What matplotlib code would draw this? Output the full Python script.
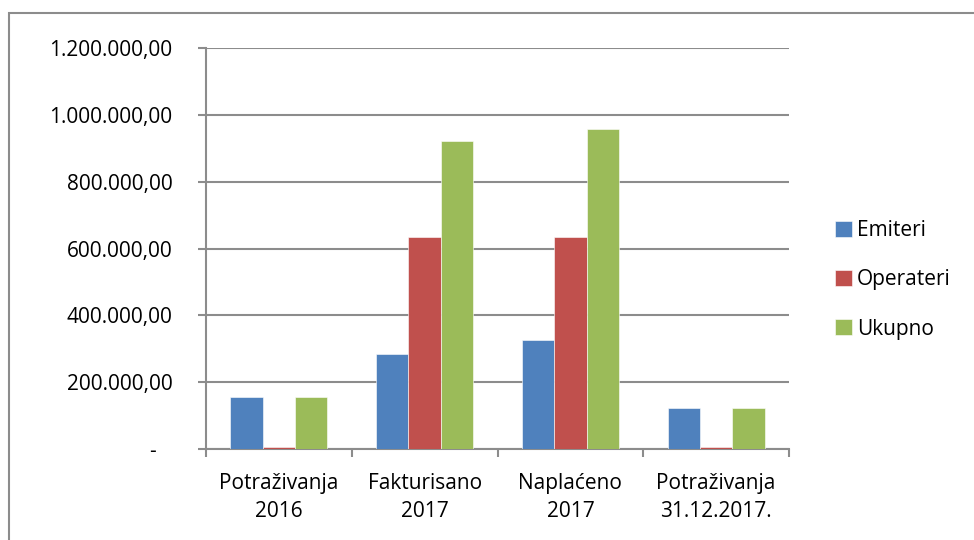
import matplotlib.pyplot as plt
from matplotlib.patches import Rectangle
from matplotlib.ticker import FuncFormatter
import numpy as np

plt.rcParams['font.family'] = ['Open Sans', 'DejaVu Sans']

# chart data
categories = ['Potraživanja\n2016', 'Fakturisano\n2017', 'Naplaćeno\n2017', 'Potraživanja\n31.12.2017.']
series_names = ['Emiteri', 'Operateri', 'Ukupno']
emiteri = [155700, 284000, 326000, 122800]
operateri = [5000, 634700, 634700, 5000]
ukupno = [155700, 920700, 956600, 122800]
colours = ['#4F81BD', '#C0504D', '#9BBB59']


def fmt_value(v, pos):
    # european number format, zero is shown as a dash (accounting style)
    if v == 0:
        return '-   '
    s = '{:,.2f}'.format(v)
    return s.replace(',', 'X').replace('.', ',').replace('X', '.')


fig = plt.figure(figsize=(9.74, 5.4), dpi=100)
ax = fig.add_axes([206 / 974, 1 - 449 / 540, 583 / 974, 401 / 540])

# outer chart frame (right and bottom edges fall outside the picture)
fig.patches.append(Rectangle((9 / 974, -0.1), 1.1, 1.1 - 13 / 540, transform=fig.transFigure,
                             facecolor='none', edgecolor='#8c8c8c', linewidth=1.5))

x = np.arange(len(categories))
width = 1 / 4.5
for i, (name, vals) in enumerate(zip(series_names, [emiteri, operateri, ukupno])):
    ax.bar(x + (i - 1) * width, vals, width, color=colours[i], label=name,
           edgecolor='white', linewidth=0.4, zorder=3)

grid_col = '#8c8c8c'
ax.set_xlim(-0.5, len(categories) - 0.5)
ax.set_ylim(0, 1200000)
ax.set_yticks(np.arange(0, 1200001, 200000))
ax.yaxis.set_major_formatter(FuncFormatter(fmt_value))
ax.grid(axis='y', color=grid_col, linewidth=1.5, zorder=0)

ax.set_xticks(x)
ax.set_xticklabels(categories, linespacing=1.45)
ax.set_xticks(np.arange(-0.5, len(categories)), minor=True)
ax.tick_params(axis='x', which='major', length=0, pad=17, labelsize=15)
ax.tick_params(axis='x', which='minor', length=6, width=1.5, color=grid_col)
ax.tick_params(axis='y', length=6, width=1.5, color=grid_col, pad=18, labelsize=15)

for side in ['top', 'right']:
    ax.spines[side].set_visible(False)
for side in ['left', 'bottom']:
    ax.spines[side].set_color(grid_col)
    ax.spines[side].set_linewidth(1.5)

fig.legend(loc='center left', bbox_to_anchor=(835 / 974, 1 - 280 / 540), frameon=False,
           fontsize=15, handlelength=0.8, handleheight=0.8, handletextpad=0.25,
           labelspacing=1.35, borderpad=0, borderaxespad=0)

plt.savefig('out.png', dpi=100)
